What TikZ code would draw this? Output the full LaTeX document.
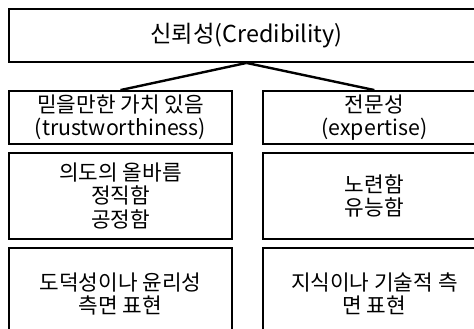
\documentclass[tikz,border=0pt]{standalone}
\usepackage{fontspec}
\setmainfont{Noto Sans CJK KR}
\usetikzlibrary{positioning}

\def\credColWidth{167.25pt}
\def\credTopWidth{356.25pt}
\def\credHeadHeight{39.75pt}
\def\credMidHeight{64.5pt}
\def\credLowHeight{69pt}
\def\credGapX{21.75pt}
\def\credGapY{5.25pt}

\begin{document}
\begin{tikzpicture}[x=0.75pt, y=-0.75pt,
    cbox/.style = {draw, line width = 1.4pt, inner sep = 0pt, align = center,
        minimum width = \credColWidth, font = \fontsize{16}{17.5}\selectfont},
    link/.style = {line width = 1.8pt}]
    \useasboundingbox (0,0) rectangle (474,328);
    \clip (0,0) rectangle (474,328);
    %% top box
    \node [cbox, minimum width = \credTopWidth, minimum height = \credHeadHeight,
        font = \fontsize{17.5}{20}\selectfont]
        (cred) at (246.5,35.5) {신뢰성(Credibility)};
    %% column heads
    \node [cbox, minimum height = \credHeadHeight]
        (trust) at (120.5,117.5) {믿을만한 가치 있음\\(trustworthiness)};
    \node [cbox, minimum height = \credHeadHeight, right = \credGapX of trust]
        (expert) {전문성\\(expertise)};
    %% traits
    \node [cbox, minimum height = \credMidHeight, below = \credGapY of trust]
        (honest) {의도의 올바름\\정직함\\공정함};
    \node [cbox, minimum height = \credMidHeight, below = \credGapY of expert]
        (skill) {노련함\\유능함};
    %% expression
    \node [cbox, minimum height = \credLowHeight, below = \credGapY of honest]
        (moral) {도덕성이나 윤리성\\측면 표현};
    \node [cbox, minimum height = \credLowHeight, below = \credGapY of skill]
        (tech) {지식이나 기술적 측\\면 표현};
    %%
    \draw [link] (cred.south) -- (trust.north);
    \draw [link] (cred.south) -- (expert.north);
\end{tikzpicture}
\end{document}
